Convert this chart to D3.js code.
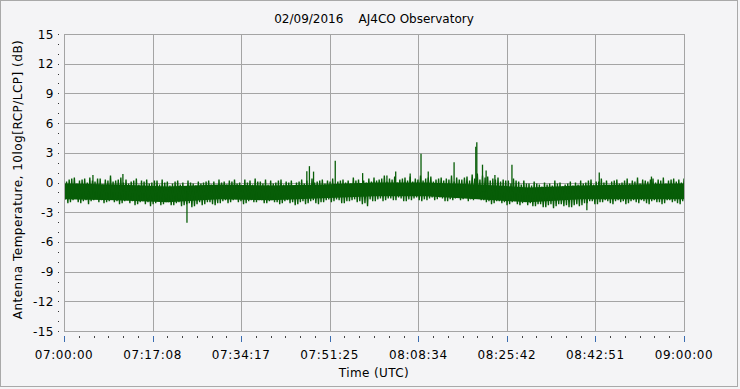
<!DOCTYPE html>
<html>
<head>
<meta charset="utf-8">
<script src="https://cdn.jsdelivr.net/npm/d3@7"></script>
<style>
  body { margin: 0; background: #f4f4f6; }
  text { font-family: "DejaVu Sans", sans-serif; font-size: 12px; fill: #000; }
</style>
</head>
<body>
<div id="chart"></div>
<script>
// 1: DATA (dB, per minute after 07:00 UTC)
// outer excursions
const bandHi = [
  0.6, 0.3, 0.5, 0.2, 0.4, 0.5, 0.1, 0.4, 0.3, 0.7,
  0.2, 0.5, 0.3, 0.1, 0.4, 0.2, 0.3, 0.0, 0.2, 0.3,
  0.1, -0.1, 0.2, 0.0, 0.2, -0.1, 0.1, 0.0, 0.2, 0.1,
  0.3, 0.1, 0.2, 0.3, 0.0, 0.3, 0.2, 0.4, 0.1, 0.3,
  0.2, 0.0, 0.3, 0.1, 0.2, 0.0, 0.3, 0.2, 0.4, 0.1,
  0.3, 0.2, 0.4, 0.1, 0.3, 0.2, 0.5, 0.3, 0.2, 0.4,
  0.5, 0.3, 0.7, 0.4, 0.6, 0.3, 0.5, 0.6, 0.4, 0.7,
  0.4, 0.6, 0.3, 0.5, 0.4, 0.7, 0.5, 0.3, 0.6, 0.8,
  0.9, 0.7, 0.6, 0.4, 0.5, 0.3, 0.2, 0.4, 0.1, 0.2,
  -0.1, 0.1, -0.2, 0.0, -0.1, 0.2, 0.0, -0.2, 0.1, 0.0,
  0.2, 0.0, 0.3, 0.1, 0.4, 0.2, 0.1, 0.3, 0.0, 0.4,
  0.2, 0.5, 0.3, 0.1, 0.4, 0.3, 0.5, 0.2, 0.4, 0.3, 0.4
];
const bandLo = [
  -2.1, -1.8, -2.0, -1.9, -2.2, -1.8, -2.0, -2.1, -1.9, -2.0,
  -2.2, -1.9, -2.1, -2.3, -2.0, -2.2, -2.4, -2.1, -2.3, -2.0,
  -2.3, -2.1, -2.4, -2.2, -2.5, -2.2, -2.3, -2.0, -2.2, -2.1,
  -1.9, -2.1, -1.8, -2.0, -2.2, -1.9, -2.0, -1.8, -2.1, -1.9,
  -2.0, -2.2, -1.9, -2.1, -2.3, -2.0, -2.2, -1.9, -2.1, -2.0,
  -1.8, -2.0, -1.7, -2.1, -1.9, -1.8, -2.0, -2.2, -2.4, -1.9,
  -1.7, -1.9, -1.6, -1.8, -1.5, -1.9, -1.7, -1.6, -1.8, -1.7,
  -1.6, -1.8, -1.5, -1.9, -1.7, -1.6, -1.8, -1.5, -1.7, -1.6,
  -1.8, -2.0, -2.2, -1.9, -2.1, -2.3, -2.0, -2.2, -2.1, -2.3,
  -2.4, -2.2, -2.5, -2.3, -2.6, -2.2, -2.4, -2.5, -2.3, -2.4,
  -2.1, -1.9, -2.2, -2.0, -1.8, -2.1, -1.9, -2.0, -2.2, -1.9,
  -2.0, -1.8, -2.1, -1.9, -2.0, -2.2, -1.8, -2.0, -2.1, -1.9, -2.0
];
// inner excursions (half-minute)
const innerHi = [
  0.1, 0.4, -0.1, 0.3, 0.0, 0.2, 0.4, -0.2, 0.2, 0.1,
  0.3, 0.0, -0.1, 0.2, -0.2, 0.1, -0.1, 0.2, -0.2, 0.0,
  -0.3, 0.1, -0.2, -0.4, 0.0, -0.3, -0.1, 0.1, -0.2, -0.3,
  0.0, -0.2, 0.1, -0.1, -0.3, 0.0, -0.2, 0.1, -0.1, -0.2,
  -0.1, 0.2, -0.2, 0.0, -0.3, 0.1, -0.1, -0.2, 0.0, 0.2,
  -0.1, 0.1, -0.2, 0.2, 0.0, -0.1, 0.2, -0.2, 0.0, 0.1,
  0.2, 0.4, 0.1, 0.3, 0.0, 0.4, 0.2, 0.1, 0.3, 0.2,
  0.5, 0.1, 0.4, 0.2, 0.3, 0.1, 0.3, 0.5, 0.2, 0.4,
  0.3, 0.5, 0.2, 0.3, 0.1, 0.2, -0.1, 0.2, -0.2, -0.1,
  -0.3, -0.1, -0.4, -0.2, -0.3, -0.1, -0.4, -0.1, -0.3, -0.2,
  -0.1, 0.2, -0.2, 0.1, 0.0, -0.2, 0.2, -0.1, 0.2, -0.1,
  0.1, -0.1, 0.2, 0.3, 0.0, 0.2, -0.1, 0.3, 0.1, 0.0, 0.2
];
const innerLo = [
  -1.7, -2.0, -1.6, -2.1, -1.8, -1.9, -1.6, -1.8, -2.0, -1.7,
  -1.9, -2.1, -1.8, -1.9, -2.2, -1.9, -2.0, -2.2, -1.9, -2.2,
  -2.0, -2.3, -2.0, -2.3, -2.1, -2.4, -2.0, -2.2, -2.0, -2.3,
  -2.1, -1.8, -2.0, -1.7, -1.9, -2.1, -1.8, -2.0, -1.8, -2.1,
  -1.8, -2.0, -2.1, -1.8, -2.0, -2.2, -1.9, -2.1, -1.8, -2.2,
  -2.0, -1.7, -1.9, -1.8, -2.1, -1.9, -1.7, -1.9, -2.1, -1.7,
  -1.9, -1.6, -1.8, -1.6, -1.8, -1.6, -1.9, -1.8, -1.5, -1.9,
  -1.8, -1.5, -1.7, -1.6, -1.9, -1.8, -1.5, -1.7, -1.9, -1.8,
  -1.6, -1.8, -1.9, -2.1, -1.9, -2.0, -2.2, -1.9, -2.3, -2.0,
  -2.1, -2.4, -2.2, -2.5, -2.2, -2.4, -2.2, -2.3, -2.5, -2.2,
  -2.3, -2.1, -1.9, -2.2, -2.0, -1.9, -2.2, -1.8, -1.9, -2.1,
  -1.8, -2.1, -1.9, -2.2, -1.8, -2.0, -2.1, -1.8, -1.9, -2.2, -1.8
];
// solid core of the trace, every 10 minutes
const coreMin = [0, 10, 20, 30, 40, 50, 60, 70, 80, 90, 100, 110, 120];
const coreHi = [-0.1, -0.2, -0.4, -0.2, -0.3, -0.2, 0.0, 0.0, -0.2, -0.5, -0.3, -0.2, -0.1];
const coreLo = [-1.7, -1.8, -2.0, -1.7, -1.8, -1.6, -1.4, -1.4, -1.7, -2.0, -1.7, -1.7, -1.7];
// isolated spikes (minute, dB)
const spikeMin = [5.6, 11.4, 23.8, 47.0, 47.5, 48.3, 52.5, 57.8, 62.5, 64.2, 67.0, 69.1, 70.5, 75.5, 79.7, 79.9, 81.0, 81.7, 83.4, 86.7, 101.2, 103.6, 113.7];
const spikeVal = [0.75, 0.85, -4.07, 1.14, 1.65, 1.1, 2.2, 0.95, 0.7, 1.1, 0.9, 2.9, 1.1, 2.05, 3.6, 4.07, 1.8, 1.2, 0.75, 1.8, -2.8, 1.0, 0.6];

const yTicks = [-15, -12, -9, -6, -3, 0, 3, 6, 9, 12, 15];
const xTickLabels = ["07:00:00", "07:17:08", "07:34:17", "07:51:25", "08:08:34", "08:25:42", "08:42:51", "09:00:00"];

// 2: LAYOUT
const W = 740, H = 389;
const margin = { top: 34, right: 56, bottom: 58, left: 64 };
const width = W - margin.left - margin.right;
const height = H - margin.top - margin.bottom;

const root = d3.select("#chart").append("svg")
  .attr("width", W).attr("height", H);

root.append("rect")
  .attr("x", 0.5).attr("y", 0.5).attr("width", W - 3).attr("height", H - 3)
  .attr("fill", "#f4f4f6").attr("stroke", "#a9a9a9");

const svg = root.append("g")
  .attr("transform", `translate(${margin.left},${margin.top})`);

// 3: SCALES
const x = d3.scaleLinear().domain([0, 120]).range([0, width]);
const y = d3.scaleLinear().domain([-15, 15]).range([height, 0]);
const xMajor = xTickLabels.map((d, i) => i * 120 / (xTickLabels.length - 1));

// grid
svg.append("g").selectAll("line").data(yTicks).enter().append("line")
  .attr("x1", 0).attr("x2", width)
  .attr("y1", d => Math.round(y(d)) + 0.5).attr("y2", d => Math.round(y(d)) + 0.5)
  .attr("stroke", "#a4a4a4");
svg.append("g").selectAll("line").data(xMajor).enter().append("line")
  .attr("y1", 0).attr("y2", height)
  .attr("x1", d => Math.round(x(d)) + 0.5).attr("x2", d => Math.round(x(d)) + 0.5)
  .attr("stroke", "#a4a4a4");

// 4: PLOT DATA
svg.append("clipPath").attr("id", "clip")
  .append("rect").attr("width", width).attr("height", height);
const plot = svg.append("g").attr("clip-path", "url(#clip)");
const green = "#075d07";

const core = coreMin.map((m, i) => ({ m, hi: coreHi[i], lo: coreLo[i] }));
plot.append("path").datum(core)
  .attr("fill", green)
  .attr("d", d3.area().x(d => x(d.m)).y0(d => y(d.lo)).y1(d => y(d.hi)));

const trace = [];
bandHi.forEach((v, i) => {
  trace.push({ m: i, v: v });
  trace.push({ m: i + 0.25, v: innerLo[i] });
  trace.push({ m: i + 0.5, v: innerHi[i] });
  trace.push({ m: i + 0.75, v: bandLo[i] });
});
plot.append("path").datum(trace)
  .attr("fill", "none")
  .attr("stroke", green)
  .attr("stroke-width", 1.35)
  .attr("d", d3.line().x(d => x(d.m)).y(d => y(d.v)));

plot.selectAll(".spike").data(spikeMin).enter().append("line")
  .attr("class", "spike")
  .attr("x1", d => x(d)).attr("x2", d => x(d))
  .attr("y1", y(-0.9))
  .attr("y2", (d, i) => y(spikeVal[i]))
  .attr("stroke", green).attr("stroke-width", 1.3);

// frame
svg.append("rect").attr("x", 0.5).attr("y", 0.5)
  .attr("width", width).attr("height", height)
  .attr("fill", "none").attr("stroke", "#a4a4a4");

// 5: AXES
const yMinor = d3.range(-15, 15.1, 1);
svg.append("g").selectAll("line").data(yMinor).enter().append("line")
  .attr("x1", -6).attr("x2", -5)
  .attr("y1", d => Math.round(y(d)) + 0.5).attr("y2", d => Math.round(y(d)) + 0.5)
  .attr("stroke", "#333");
svg.append("g").selectAll("text").data(yTicks).enter().append("text")
  .attr("x", -10).attr("y", d => y(d) + 4.5)
  .attr("text-anchor", "end")
  .style("letter-spacing", "0.5px")
  .text(d => d);

const xMinor = d3.range(0, 120.01, 120 / 42);
svg.append("g").selectAll("line").data(xMinor).enter().append("line")
  .attr("x1", d => Math.round(x(d)) + 0.5).attr("x2", d => Math.round(x(d)) + 0.5)
  .attr("y1", height + 5).attr("y2", height + 7)
  .attr("stroke", "#444");
svg.append("g").selectAll("line").data(xMajor).enter().append("line")
  .attr("x1", d => Math.round(x(d)) + 0.5).attr("x2", d => Math.round(x(d)) + 0.5)
  .attr("y1", height + 5).attr("y2", height + 11)
  .attr("stroke", "#3a6cb0");
svg.append("g").selectAll("text").data(xMajor).enter().append("text")
  .attr("x", d => x(d)).attr("y", height + 28)
  .attr("text-anchor", "middle")
  .style("letter-spacing", "0.6px")
  .text((d, i) => xTickLabels[i]);

// 6: LABELS
svg.append("text")
  .attr("x", width / 2).attr("y", height + 46)
  .attr("text-anchor", "middle")
  .style("letter-spacing", "0.4px")
  .text("Time (UTC)");

svg.append("text")
  .attr("transform", "rotate(-90)")
  .attr("x", -height / 2 + 3).attr("y", -margin.left + 22)
  .attr("text-anchor", "middle")
  .style("letter-spacing", "0.5px")
  .text("Antenna Temperature, 10log[RCP/LCP] (dB)");

svg.append("text")
  .attr("x", width / 2).attr("y", -11)
  .attr("text-anchor", "middle")
  .attr("xml:space", "preserve")
  .style("white-space", "pre")
  .text("02/09/2016    AJ4CO Observatory");
</script>
</body>
</html>
